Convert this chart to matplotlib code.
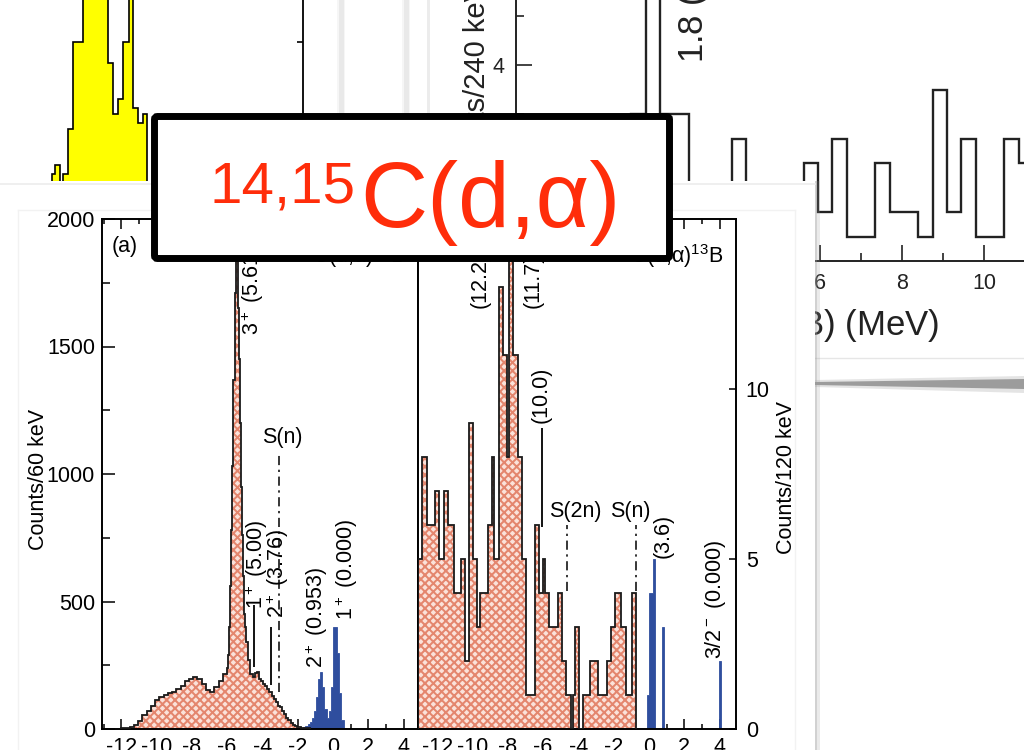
import numpy as np
import matplotlib
matplotlib.use("Agg")
import matplotlib.pyplot as plt
from matplotlib.patches import Rectangle, FancyBboxPatch, Polygon
from matplotlib.lines import Line2D
from matplotlib.ticker import MultipleLocator

W, H = 1024, 750

plt.rcParams['font.family'] = ['Liberation Sans', 'DejaVu Sans']
plt.rcParams['mathtext.fontset'] = 'custom'
plt.rcParams['mathtext.rm'] = 'Liberation Sans'
plt.rcParams['mathtext.it'] = 'Liberation Sans:italic'
plt.rcParams['mathtext.bf'] = 'Liberation Sans:bold'
plt.rcParams['axes.unicode_minus'] = False
plt.rcParams['hatch.linewidth'] = 1.45

# ---------------- data ----------------
# yellow spectrum (channel units)
yel_edges = [10.34, 11.0, 12.0, 12.66, 13.66, 14.54, 16.54, 21.66, 22.66,
             23.66, 24.66, 25.86, 26.66, 27.54, 28.54, 29.34]
yel_counts = [6, 9, 0, 6, 21, 50, 75, 43, 26, 31, 50, 75, 28, 23, 26]

# excitation-energy spectrum, counts/240 keV
ex_start, ex_width = 0.70, 0.35
ex_counts = [1.0, 2.0, 3.0, 7.0, 3.0, 3.0, 1.0, 1.0, 0.5, 2.5, 1.0, 0.5, 1.0,
             0.5, 2.0, 1.0, 2.5, 0.5, 0.5, 2.0, 1.0, 1.0, 0.5, 3.5, 1.0, 2.5,
             0.5, 0.5, 2.5, 2.0, 1.0]

# 14C(d,a)12B, counts/60 keV
a_broad = [2, 5, 9, 14, 30, 55, 70, 90, 112, 125, 135, 142, 145, 158, 168,
           188, 198, 204, 195, 175, 153, 145, 165, 190, 215]            # 0.24 MeV bins from -12.0
a_peak = [240, 290, 400, 560, 780, 1030, 1370, 1710, 1880, 1950, 1650,
          1450, 1200, 950, 760, 600, 450, 400]                           # 0.06 MeV bins from -6.0
a_tail = [340, 270, 215, 205, 218, 225, 195, 188, 178, 168, 158, 145, 128,
          118, 105, 92, 85, 72, 60, 45, 35, 22, 15, 11, 9, 7, 5, 4, 3, 2]  # 0.12 MeV bins from -4.92
a_bound = [3, 6, 10, 18, 28, 42, 70, 125, 195, 222, 165, 80, 45, 70, 165,
           400, 400, 300, 141, 35, 5]                                    # 0.12 MeV bins from -1.80

# 15C(d,a)13B, counts/120 keV
b_counts = [5, 5, 8, 8, 6, 6, 6, 6, 7, 7,
            5, 5, 7, 7, 6, 6, 6, 4, 4, 4,
            5, 5, 2, 2, 9, 9, 5, 5, 3, 4,
            4, 4, 4, 6, 6, 8, 5, 5, 13, 13,
            11, 11, 8, 14, 14, 11, 11, 8, 8, 5,
            5, 1, 1, 1, 1, 6, 6, 4, 4, 5,
            4, 4, 3, 3, 3, 3, 4, 4, 2, 2,
            1, 1, 0, 1, 3, 3, 0, 0, 1, 1,
            1, 2, 2, 2, 2, 1, 1, 1, 1, 2,
            2, 3, 3, 4, 4, 4, 3, 3, 1, 1,
            1, 4, 4]                                                     # 0.12 MeV bins from -13.08
b_bound_edges = [-0.12, 0.0, 0.12, 0.24, 0.36, 0.48, 0.60, 0.72, 0.84, 3.96, 4.08]
b_bound = [1, 4, 4, 5, 0, 0, 0, 3, 0, 2]

a_levels = [("3$^+$ (5.612)", 253, 335), ("1$^+$ (5.00)", 257, 609),
            ("2$^+$ (3.76)", 278, 618), ("2$^+$ (0.953)", 317, 668),
            ("1$^+$ (0.000)", 347, 620)]
b_levels = [("(12.2)", 480, 308), ("(11.7)", 533, 308), ("(10.0)", 541, 423),
            ("(3.6)", 663, 558), ("3/2$^-$ (0.000)", 716, 659)]

PINK = '#e4866e'
PINK_BG = '#fbe2da'
BLUE = '#2f4e9e'
RED = '#ff2d0a'

fig = plt.figure(figsize=(W / 100, H / 100), dpi=100)


def box(x0, y0, x1, y1):
    return [x0 / W, 1 - y1 / H, (x1 - x0) / W, (y1 - y0) / H]


def rect_px(x0, y0, x1, y1, **kw):
    r = Rectangle((x0 / 100, (H - y1) / 100), (x1 - x0) / 100, (y1 - y0) / 100,
                  transform=fig.dpi_scale_trans, **kw)
    fig.add_artist(r)
    return r


def line_px(xs, ys, **kw):
    ln = Line2D([x / 100 for x in xs], [(H - y) / 100 for y in ys],
                transform=fig.dpi_scale_trans, **kw)
    fig.add_artist(ln)
    return ln


def poly_px(pts, **kw):
    p = Polygon([(x / 100, (H - y) / 100) for x, y in pts], closed=True,
                transform=fig.dpi_scale_trans, **kw)
    fig.add_artist(p)
    return p


def ftext(x, y, s, **kw):
    return fig.text(x / W, 1 - y / H, s, **kw)


# ---------------- back slide: yellow spectrum ----------------
ax_y = fig.add_axes(box(0, 0, 303, 192), zorder=1)
ax_y.stairs(yel_counts, yel_edges, fill=True, facecolor='#ffff00',
            edgecolor='black', linewidth=1.2)
ax_y.set_xlim(0, 60.6)
ax_y.set_ylim(0, 64)
for s in ['left', 'top', 'bottom']:
    ax_y.spines[s].set_visible(False)
ax_y.spines['right'].set_linewidth(1.3)
ax_y.set_xticks([])
ax_y.yaxis.tick_right()
ax_y.set_yticks([50])
ax_y.tick_params(axis='y', direction='in', length=4, width=1.2, labelright=False)

# slide edge shadows
for xc in (341, 406):
    rect_px(xc - 4, 0, xc + 4, 200, facecolor='#b0b0b0', edgecolor='none', alpha=0.1, zorder=2)
    rect_px(xc - 2.5, 0, xc + 2.5, 200, facecolor='#b0b0b0', edgecolor='none', alpha=0.18, zorder=2)
rect_px(427, 0, 430, 200, facecolor='#ececec', edgecolor='none', zorder=2)

# ---------------- back slide: excitation spectrum ----------------
ax_t = fig.add_axes(box(516, -40, 1100, 261), zorder=1)
ex_edges = ex_start + ex_width * np.arange(len(ex_counts) + 1)
ax_t.stairs(ex_counts, ex_edges, color='#222222', linewidth=1.7)
ax_t.set_xlim(-1.415, 12.83)
ax_t.set_ylim(0, 6.143)
ax_t.spines['top'].set_visible(False)
ax_t.spines['right'].set_visible(False)
for s in ['left', 'bottom']:
    ax_t.spines[s].set_linewidth(1.4)
    ax_t.spines[s].set_color('#222222')
ax_t.xaxis.set_major_locator(MultipleLocator(2))
ax_t.xaxis.set_minor_locator(MultipleLocator(1))
ax_t.yaxis.set_major_locator(MultipleLocator(2))
ax_t.yaxis.set_minor_locator(MultipleLocator(1))
ax_t.tick_params(which='both', direction='in', width=1.2, colors='#222222', labelsize=15.5)
ax_t.tick_params(which='major', length=11.5)
ax_t.tick_params(which='minor', length=5.8)
ax_t.tick_params(axis='x', pad=8.6)
ax_t.tick_params(axis='y', pad=8)
ftext(477, 85.5, "Counts/240 keV", rotation=90, ha='center', va='center',
      fontsize=21, color='#222222', zorder=1.5)
ftext(694, 63, "1.8 (2$^+$)", rotation=90, ha='center', va='bottom',
      fontsize=25, color='#222222', zorder=1.5)
ftext(939, 325, "E$_x$(B) (MeV)", ha='right', va='center',
      fontsize=25, color='#222222', zorder=1.5)

# lower edge of that slide and its shadow
line_px([815, 1024], [358, 358], color='#e6e6e6', linewidth=1, zorder=2)
poly_px([(815, 380), (1024, 376), (1024, 393), (815, 387)],
        facecolor='#888888', edgecolor='none', alpha=0.22, zorder=2)
poly_px([(815, 382), (1024, 379), (1024, 389), (815, 385)],
        facecolor='#555555', edgecolor='none', alpha=0.5, zorder=2)

# ---------------- front slide ----------------
rect_px(0, 181, 815, 760, facecolor='white', edgecolor='none', zorder=5)
rect_px(815, 181, 817, 760, facecolor='#9a9a9a', edgecolor='none', alpha=0.45, zorder=4)
rect_px(817, 181, 820, 760, facecolor='#9a9a9a', edgecolor='none', alpha=0.2, zorder=4)
line_px([0, 815], [184, 184], color='#ececec', linewidth=1.2, zorder=5.5)
line_px([18, 795], [210, 210], color='#f2f2f2', linewidth=1, zorder=5.5)
line_px([18, 18], [210, 760], color='#f2f2f2', linewidth=1, zorder=5.5)
line_px([795, 795], [210, 760], color='#f2f2f2', linewidth=1, zorder=5.5)


def hatched(ax, vals, edges):
    ax.stairs(vals, edges, fill=True, facecolor=PINK_BG, edgecolor='none',
              linewidth=0, zorder=2)
    ax.stairs(vals, edges, fill=True, facecolor='none', edgecolor=PINK,
              hatch='xxxx', linewidth=0, zorder=2.1)
    ax.stairs(vals, edges, fill=False, color='#1a1a1a', linewidth=1.3, zorder=3)


def style_panel(ax):
    for s in ax.spines.values():
        s.set_linewidth(1.4)
    ax.xaxis.set_major_locator(MultipleLocator(2))
    ax.xaxis.set_minor_locator(MultipleLocator(1))
    ax.tick_params(which='both', direction='in', width=1.1, labelsize=15.5)
    ax.tick_params(axis='x', which='both', top=True)
    ax.tick_params(axis='x', which='major', length=7, pad=5.5)
    ax.tick_params(axis='x', which='minor', length=3.6)


# panel (a)
ax_a = fig.add_axes(box(102, 219, 418, 729), zorder=6)
a_edges = np.concatenate([np.linspace(-12.0, -6.0, 26)[:-1],
                          np.linspace(-6.0, -4.92, 19)[:-1],
                          np.linspace(-4.92, -1.32, 31)])
hatched(ax_a, a_broad + a_peak + a_tail, a_edges)
ax_a.stairs(a_bound, np.linspace(-1.80, 0.72, 22), fill=True, facecolor=BLUE,
            edgecolor=BLUE, linewidth=0.6, zorder=2.5)
ax_a.set_xlim(-13.09, 4.82)
ax_a.set_ylim(0, 2000)
style_panel(ax_a)
ax_a.yaxis.set_major_locator(MultipleLocator(500))
ax_a.yaxis.set_minor_locator(MultipleLocator(250))
ax_a.tick_params(axis='y', which='major', length=9.5, pad=5)
ax_a.tick_params(axis='y', which='minor', length=5.5)
ax_a.vlines([-4.48], 243, 486, color='black', linewidth=1.3, zorder=4)
ax_a.vlines([-3.51], 172, 400, color='black', linewidth=1.3, zorder=4)
ax_a.vlines([-3.06], 145, 1074, color='black', linewidth=1.1,
            linestyles=(0, (6, 3, 1.5, 3)), zorder=4)

# panel (b)
ax_b = fig.add_axes(box(418, 219, 736, 729), zorder=6)
b_edges = -13.08 + 0.12 * np.arange(len(b_counts) + 1)
hatched(ax_b, b_counts, b_edges)
ax_b.stairs(b_bound, b_bound_edges, fill=True, facecolor=BLUE, edgecolor=BLUE,
            linewidth=0.6, zorder=2.5)
ax_b.set_xlim(-13.09, 4.93)
ax_b.set_ylim(0, 15)
style_panel(ax_b)
ax_b.yaxis.tick_right()
ax_b.set_yticks([0, 5, 10])
ax_b.tick_params(axis='y', which='major', length=5, pad=7)
ax_b.vlines([-6.06], 5.94, 8.85, color='black', linewidth=1.3, zorder=4)
ax_b.vlines([-4.65, -0.76], 4.05, 6.0, color='black', linewidth=1.1,
            linestyles=(0, (6, 3, 1.5, 3)), zorder=4)

# labels on the front slide
TXT = dict(fontsize=15.5, color='black', zorder=7)
ftext(38, 479, "Counts/60 keV", rotation=90, ha='center', va='center', **TXT)
ftext(787, 478, "Counts/120 keV", rotation=90, ha='center', va='center', **TXT)
ftext(125, 247, "(a)", ha='center', va='center', **TXT)
ftext(441, 247, "(b)", ha='center', va='center', **TXT)
ftext(405, 263, "$^{14}$C(d,α)$^{12}$B", ha='right', va='baseline', **TXT)
ftext(723, 263, "$^{15}$C(d,α)$^{13}$B", ha='right', va='baseline', **TXT)
ftext(282, 438, "S(n)", ha='center', va='center', **TXT)
ftext(575, 511, "S(2n)", ha='center', va='center', **TXT)
ftext(630, 511, "S(n)", ha='center', va='center', **TXT)
for label, x, y in a_levels + b_levels:
    ftext(x, y, label, rotation=90, ha='center', va='bottom', **TXT)

# ---------------- title box ----------------
fig.add_artist(FancyBboxPatch((154.5 / 100, (H - 258.5) / 100), 515 / 100, 142 / 100,
                              boxstyle='round,pad=0,rounding_size=0.03',
                              transform=fig.dpi_scale_trans, facecolor='white',
                              edgecolor='black', linewidth=5.0, zorder=20))
ftext(356, 202, "14,15", ha='right', va='baseline', fontsize=42, color=RED, zorder=21)
ftext(360, 227, "C(d,α)", ha='left', va='baseline', fontsize=67, color=RED, zorder=21)

fig.savefig("out.png", dpi=100, facecolor='white')
